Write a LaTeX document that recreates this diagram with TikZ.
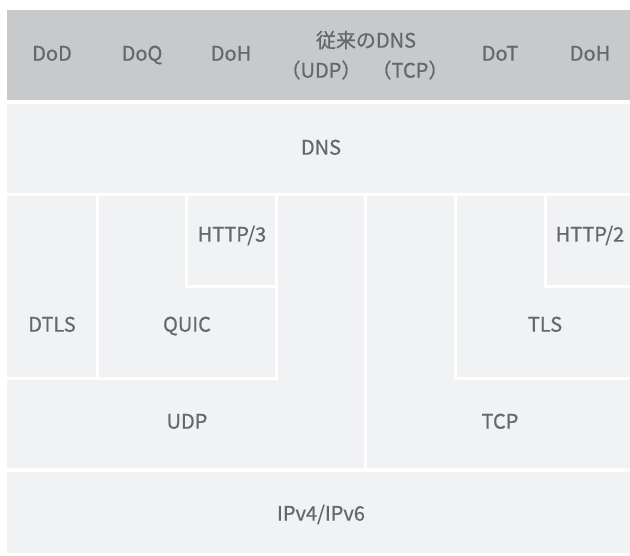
\documentclass[tikz,border=0pt]{standalone}
\usepackage{fontspec}
\setmainfont{Noto Sans CJK JP}[FakeBold=0.6]
\definecolor{headgray}{HTML}{C8C9CB}
\definecolor{cellgray}{HTML}{F1F2F4}
\definecolor{labelgray}{HTML}{66676A}
\begin{document}
\begin{tikzpicture}[x=1pt,y=-1pt,
  header/.style={fill=headgray},
  cell/.style={fill=cellgray},
  lbl/.style={text=labelgray,inner sep=0pt,text height=0.73em,text depth=0pt,
    font=\fontsize{20}{23}\selectfont}]
\useasboundingbox (0,0) rectangle (630,555);
\fill[white] (0,0) rectangle (630,555);

% header band with the protocol names
\fill[header] (7,10) rectangle (630,100);
% DNS band
\fill[cell] (7,104) rectangle (630,192.5);
% DTLS
\fill[cell] (7,196) rectangle (96,377);
% QUIC (L-shape under HTTP/3)
\fill[cell] (99,196) -- (185,196) -- (185,288) -- (275,288) -- (275,377) -- (99,377) -- cycle;
% HTTP/3
\fill[cell] (188,196) rectangle (275,285);
% UDP (reaches up to the DNS band in its right column)
\fill[cell] (7,380) -- (278,380) -- (278,196) -- (364,196) -- (364,468) -- (7,468) -- cycle;
% TCP (reaches up to the DNS band in its left column)
\fill[cell] (367,196) -- (454,196) -- (454,380) -- (630,380) -- (630,468) -- (367,468) -- cycle;
% TLS (L-shape under HTTP/2)
\fill[cell] (457,196) -- (544,196) -- (544,288) -- (630,288) -- (630,377) -- (457,377) -- cycle;
% HTTP/2
\fill[cell] (547,196) rectangle (630,285);
% IP layer
\fill[cell] (7,472) rectangle (630,553);

% header labels
\node[lbl] (dod)  at (52,57)  {DoD};
\node[lbl] (doq)  at (142,57) {DoQ};
\node[lbl] (doh3) at (231,57) {DoH};
\node[lbl] (trad) at (366,44) {従来のDNS};
\node[lbl] (tudp) at (321,74) {（UDP）};
\node[lbl] (ttcp) at (410,74) {（TCP）};
\node[lbl] (dot)  at (500,57) {DoT};
\node[lbl] (doh2) at (590,57) {DoH};

% layer labels
\node[lbl] (dns)   at (321,151) {DNS};
\node[lbl] (http3) at (232,238) {HTTP/3};
\node[lbl] (http2) at (590,238) {HTTP/2};
\node[lbl] (dtls)  at (52,328)  {DTLS};
\node[lbl] (quic)  at (187,328) {QUIC};
\node[lbl] (tls)   at (545,328) {TLS};
\node[lbl] (udp)   at (187,425) {UDP};
\node[lbl] (tcp)   at (500,425) {TCP};
\node[lbl] (ip)    at (321,517) {IPv4/IPv6};
\end{tikzpicture}
\end{document}
